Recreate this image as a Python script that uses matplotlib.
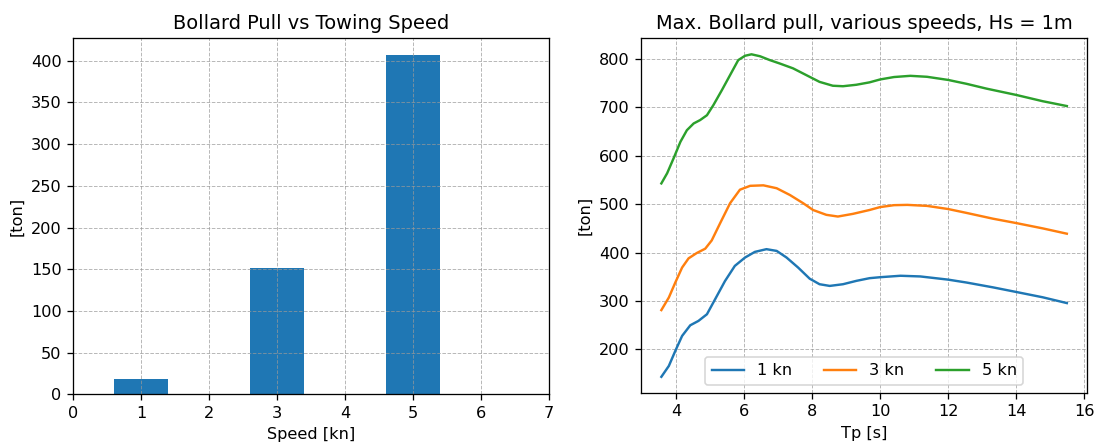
import matplotlib.pyplot as plt

# bollard pull per towing speed
speed_kn = [1, 3, 5]
pull_ton = [18.8, 151.5, 406.8]

# max bollard pull vs peak period Tp, Hs = 1m
tp_5 = [3.57, 3.74, 3.93, 4.13, 4.32, 4.52, 4.71, 4.91, 5.10, 5.35, 5.59, 5.83, 6.03,
        6.22, 6.47, 6.76, 7.05, 7.44, 7.83, 8.22, 8.61, 8.91, 9.30, 9.69, 10.0,
        10.41, 10.89, 11.38, 12.0, 12.54, 13.13, 14.0, 14.78, 15.49]
pull_5 = [543, 564, 595, 629, 653, 667, 674, 684, 705, 736, 767, 798, 807,
          810, 806, 798, 791, 781, 767, 753, 745, 744, 747, 752, 758,
          763, 765.5, 763.5, 757, 749, 739, 726, 713, 703]

tp_3 = [3.57, 3.79, 3.98, 4.18, 4.37, 4.61, 4.86, 5.05, 5.30, 5.59, 5.88, 6.18,
        6.57, 6.96, 7.35, 7.74, 8.03, 8.42, 8.76, 9.20, 9.69, 10.0, 10.41, 10.8,
        11.38, 12.0, 12.54, 13.32, 14.0, 14.78, 15.49]
pull_3 = [281, 307, 338, 369, 388, 399, 408, 425, 461, 502, 530, 538,
          539, 533, 519, 502, 488, 478, 474.5, 480, 488, 494, 498, 498.6,
          496.5, 490, 482, 470, 461, 450, 439]

tp_1 = [3.57, 3.79, 3.98, 4.18, 4.42, 4.66, 4.91, 5.15, 5.44, 5.73, 6.03, 6.32,
        6.66, 6.96, 7.25, 7.59, 7.93, 8.22, 8.52, 8.91, 9.30, 9.69, 10.0, 10.6,
        11.18, 12.0, 12.54, 13.32, 14.0, 14.78, 15.49]
pull_1 = [143, 165.5, 196.6, 227.6, 249.6, 258.6, 272.4, 303.4, 341, 372.4, 389.7, 401.4,
          407, 403.4, 389.7, 369, 346, 334.5, 331, 334.5, 341.4, 347, 349, 352,
          350.6, 344, 338, 328, 318.5, 307.5, 295.5]

dpi = 116
fig = plt.figure(figsize=(1094 / dpi, 444 / dpi), dpi=dpi)

ax = fig.add_axes([0.0667, 0.112, 0.435, 0.802])
ax.bar(speed_kn, pull_ton, width=0.8, color='#1f77b4')
ax.set_xlim(0, 7)
ax.set_title('Bollard Pull vs Towing Speed')
ax.set_xlabel('Speed [kn]')
ax.set_ylabel('[ton]')
ax.grid(True, linestyle='--', linewidth=0.6, color='#999999', alpha=0.7)

ax2 = fig.add_axes([0.586, 0.115, 0.4077, 0.799])
ax2.plot(tp_1, pull_1, label='1 kn')
ax2.plot(tp_3, pull_3, label='3 kn')
ax2.plot(tp_5, pull_5, label='5 kn')
ax2.set_title('Max. Bollard pull, various speeds, Hs = 1m')
ax2.set_xlabel('Tp [s]')
ax2.set_ylabel('[ton]')
ax2.grid(True, linestyle='--', linewidth=0.6, color='#999999', alpha=0.7)
ax2.legend(loc='lower center', ncol=3)

plt.savefig('out.png', dpi=dpi)
